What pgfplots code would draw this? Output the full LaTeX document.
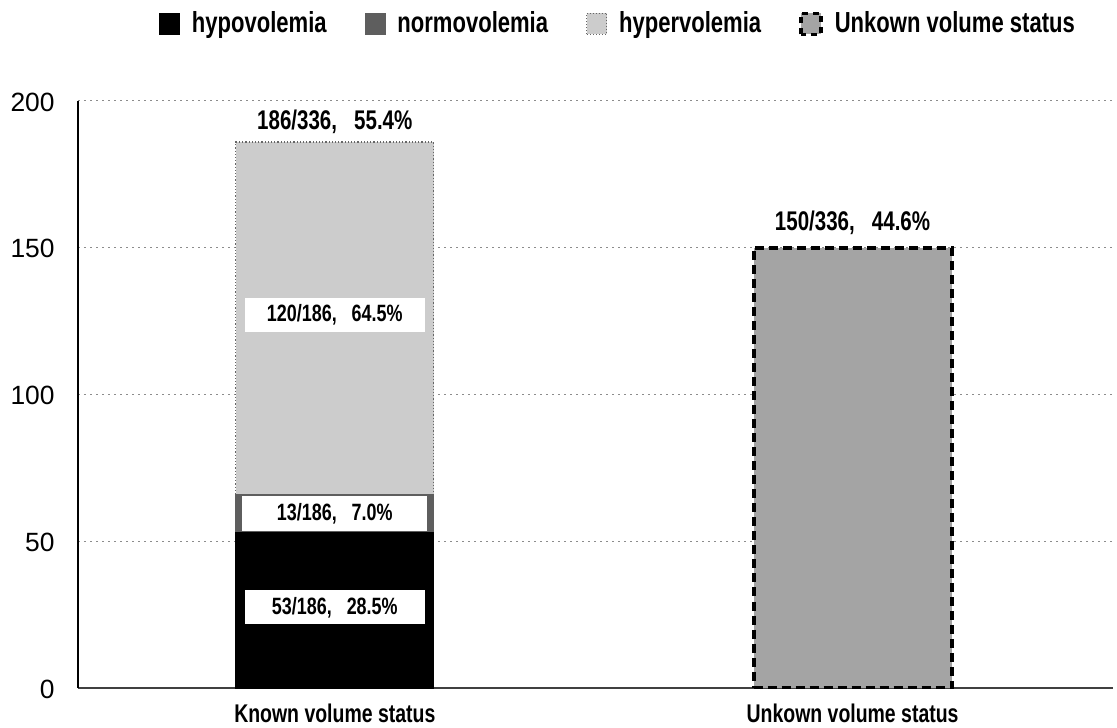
\documentclass[border=0pt]{standalone}
\usepackage{fontspec}
\setmainfont{Liberation Sans}
\newfontfamily\nb[FakeStretch=0.76]{Liberation Sans Bold}
\usepackage{pgfplots}
\pgfplotsset{compat=1.18}
\definecolor{normo}{HTML}{5E5E5E}
\definecolor{hyper}{HTML}{CCCCCC}
\definecolor{unk}{HTML}{A4A4A4}
\definecolor{gridc}{HTML}{8C8C8C}
\begin{document}
\begin{tikzpicture}
\useasboundingbox (-39pt,-19.5pt) rectangle (519.5pt,344pt);
\begin{axis}[
  at={(0,0)}, anchor=south west,
  scale only axis, width=517.5pt, height=293.5pt,
  xmin=-0.496, xmax=1.503, ymin=0, ymax=200,
  axis x line*=bottom, axis y line*=left,
  axis line style={-, line width=0.6pt},
  x axis line style={draw=black!75},
  xtick={0,1}, xticklabels={Known volume status, Unkown volume status},
  ytick={0,50,100,150,200},
  major tick length=0pt,
  ymajorgrids, grid style={gridc, line width=0.5pt, dash pattern=on 1.2pt off 1.8pt},
  /pgf/number format/assume math mode=true,
  yticklabel style={font=\fontsize{13.2}{15}\selectfont, anchor=east, inner sep=0pt, xshift=-11.5pt, yshift=-0.5pt},
  xticklabel style={font=\nb\fontsize{12.8}{14}\selectfont, inner sep=0pt, yshift=-8pt},
  ybar, bar width=99pt, bar shift=0pt,
  legend columns=4,
  legend style={draw=none, fill=none, at={(axis description cs:0.5227,1)}, anchor=center, yshift=38.5pt,
    font=\nb\fontsize{14.5}{16}\selectfont,
    /tikz/every even column/.append style={column sep=17pt},
    /tikz/every odd column/.append style={column sep=4pt}},
  legend image code/.code={\draw[#1] (0pt,-5.25pt) rectangle (10pt,5.25pt);},
]
\addplot[forget plot, fill=hyper, draw=black!60, densely dotted, line width=0.6pt] coordinates {(0,186)};
\addplot[forget plot, fill=normo, draw=normo, line width=0.6pt] coordinates {(0,66)};
\addplot[forget plot, fill=black, draw=black, line width=0.6pt] coordinates {(0,53)};
\addplot[forget plot, fill=unk, draw=black, line width=2pt, dash pattern=on 4.5pt off 2.5pt] coordinates {(1,150)};

\addlegendimage{fill=black, draw=black}
\addlegendentry{hypovolemia}
\addlegendimage{fill=normo, draw=normo}
\addlegendentry{normovolemia}
\addlegendimage{fill=hyper, draw=black!60, densely dotted, line width=0.5pt}
\addlegendentry{hypervolemia}
\addlegendimage{fill=unk, draw=black, line width=1.8pt, dash pattern=on 3pt off 2.5pt}
\addlegendentry{Unkown volume status}

\node[font=\nb\fontsize{13.5}{15}\selectfont] at (axis cs:0,192.8) {186/336,\ \ \ 55.4\%};
\node[font=\nb\fontsize{13.5}{15}\selectfont] at (axis cs:1,158.4) {150/336,\ \ \ 44.6\%};
\node[font=\nb\fontsize{11.8}{13}\selectfont, fill=white, inner sep=0pt, minimum width=90pt, minimum height=17pt] at (axis cs:0,127) {120/186,\ \ \ 64.5\%};
\node[font=\nb\fontsize{11.8}{13}\selectfont, fill=white, inner sep=0pt, minimum width=92.5pt, minimum height=17.5pt] at (axis cs:0,59.5) {13/186,\ \ \ 7.0\%};
\node[font=\nb\fontsize{11.8}{13}\selectfont, fill=white, inner sep=0pt, minimum width=90pt, minimum height=17pt] at (axis cs:0,27.5) {53/186,\ \ \ 28.5\%};
\end{axis}
\end{tikzpicture}
\end{document}
